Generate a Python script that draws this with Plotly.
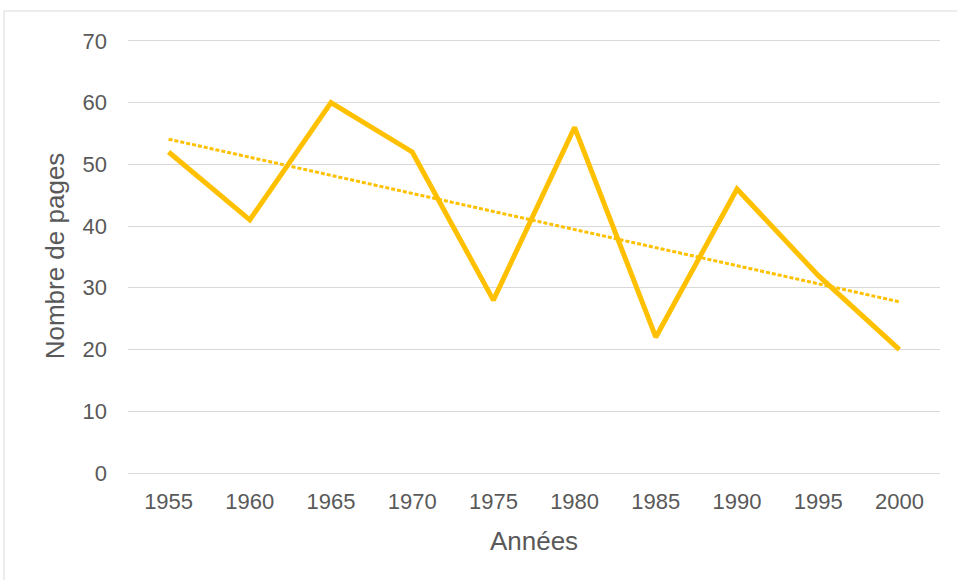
import numpy as np
import plotly.graph_objects as go

annees = ["1955", "1960", "1965", "1970", "1975", "1980", "1985", "1990", "1995", "2000"]
pages = [52, 41, 60, 52, 28, 56, 22, 46, 32, 20]
y_ticks = [0, 10, 20, 30, 40, 50, 60, 70]

# Linear trend (least squares over category index)
idx = np.arange(len(pages))
pente, origine = np.polyfit(idx, pages, 1)
tendance = origine + pente * idx

gold = "#FFC000"
grey_txt = "#595959"
grid = "#D9D9D9"
font = "Liberation Sans, Arial, sans-serif"

fig = go.Figure()
fig.add_trace(go.Scatter(
    x=annees, y=pages, mode="lines",
    line=dict(color=gold, width=5), showlegend=False,
))
fig.add_trace(go.Scatter(
    x=annees, y=tendance, mode="lines",
    line=dict(color=gold, width=3, dash="4px,2px"), showlegend=False,
))

fig.update_layout(
    width=957, height=580,
    margin=dict(l=128, r=17, t=39, b=107),
    paper_bgcolor="white", plot_bgcolor="white",
    font=dict(family=font, color=grey_txt, size=22),
    xaxis=dict(
        type="category", range=[-0.5, 9.5],
        showgrid=False, showline=False, zeroline=False,
        ticks="", tickfont=dict(size=22, color=grey_txt),
        ticklabelstandoff=13,
        title=dict(text="Années", font=dict(size=26, color=grey_txt), standoff=18),
    ),
    yaxis=dict(
        range=[0, 70.3], tickvals=y_ticks,
        showgrid=True, gridcolor=grid, gridwidth=1,
        zeroline=True, zerolinecolor=grid, zerolinewidth=1,
        showline=False, ticks="",
        tickfont=dict(size=22, color=grey_txt),
        ticklabelstandoff=20,
        title=dict(text="Nombre de pages", font=dict(size=26, color=grey_txt), standoff=10),
    ),
    shapes=[dict(
        type="rect", xref="paper", yref="paper",
        x0=-124 / 812, x1=1.1, y0=-0.5, y1=1 + 28 / 434,
        line=dict(color=grid, width=1), fillcolor="rgba(0,0,0,0)", layer="below",
    )],
)

fig.write_html("out.html")
